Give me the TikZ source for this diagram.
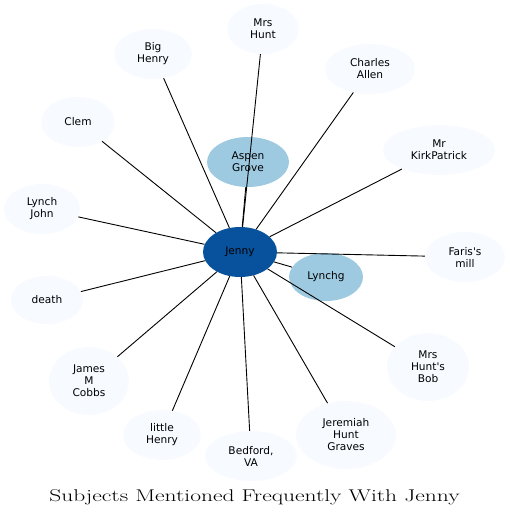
\documentclass[tikz,border=0pt]{standalone}
\usepackage{fontspec}
\newfontfamily\nodefont{DejaVu Sans}
\usetikzlibrary{shapes.geometric}
\definecolor{outerc}{HTML}{F7FBFF}
\definecolor{midc}{HTML}{9ECAE1}
\definecolor{darkc}{HTML}{08519C}
\tikzset{
  ell/.style 2 args={ellipse, inner sep=0pt, minimum width=#1pt, minimum height=#2pt,
     align=center, font=\nodefont\fontsize{10.6}{12}\selectfont},
  outer/.style={fill=outerc, draw=none},
  mid/.style={fill=midc, draw=none},
  centre/.style={fill=darkc, draw=none},
  link/.style={draw=black, line width=0.9pt}
}
\begin{document}
\begin{tikzpicture}[x=1pt,y=-1pt]
\useasboundingbox (0,0) rectangle (510,517);
\node[ell={74}{50}, centre] (jenny) at (240,252) {Jenny};
\node[ell={82}{50}, mid] (aspen) at (248,162) {Aspen\\Grove};
\node[ell={74}{48}, mid] (lynchg) at (326,277) {Lynchg};
\node[ell={72}{50}, outer] (mrshunt) at (263,29) {Mrs\\Hunt};
\node[ell={78}{50}, outer] (bighenry) at (153,54) {Big\\Henry};
\node[ell={90}{50}, outer] (charles) at (370,69) {Charles\\Allen};
\node[ell={74}{50}, outer] (clem) at (78,122) {Clem};
\node[ell={112}{50}, outer] (kirk) at (439,150) {Mr\\KirkPatrick};
\node[ell={76}{50}, outer] (lynchjohn) at (42,209) {Lynch\\John};
\node[ell={80}{50}, outer] (faris) at (465,257) {Faris's\\mill};
\node[ell={72}{48}, outer] (death) at (47,300) {death};
\node[ell={80}{68}, outer] (james) at (89,381) {James\\M\\Cobbs};
\node[ell={82}{68}, outer] (bob) at (428,367) {Mrs\\Hunt's\\Bob};
\node[ell={78}{50}, outer] (littlehenry) at (162,435) {little\\Henry};
\node[ell={92}{50}, outer] (bedford) at (251,456) {Bedford,\\VA};
\node[ell={100}{68}, outer] (jeremiah) at (346,435) {Jeremiah\\Hunt\\Graves};
\foreach \t in {aspen,lynchg,mrshunt,bighenry,charles,clem,kirk,lynchjohn,faris,death,james,bob,littlehenry,bedford,jeremiah}
  \draw[link] (jenny) -- (\t);
\node[anchor=base, inner sep=0pt] (title) at (254.5,501) {\scalebox{1.38}[1]{\fontsize{17}{20}\selectfont Subjects Mentioned Frequently With Jenny}};
\end{tikzpicture}
\end{document}
